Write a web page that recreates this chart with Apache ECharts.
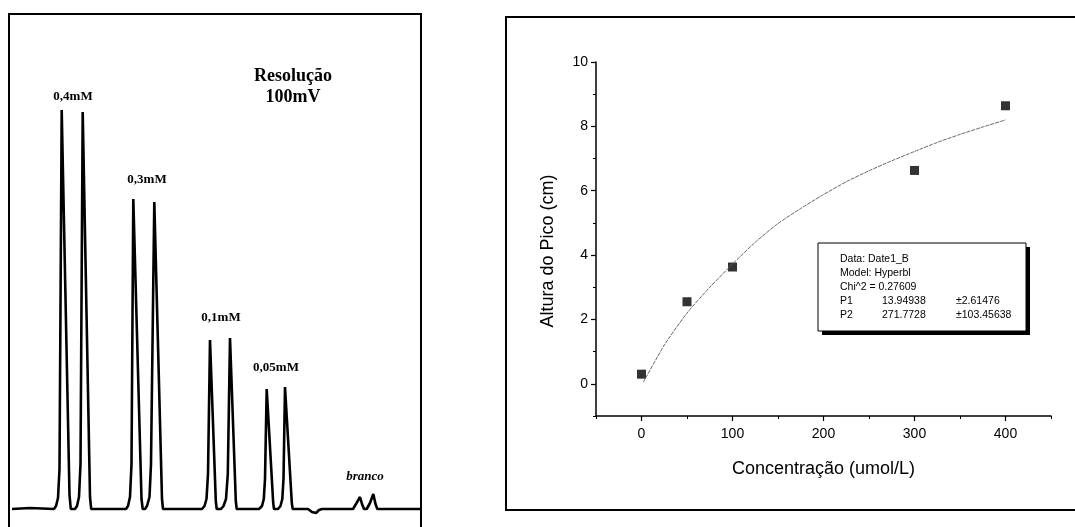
<!DOCTYPE html>
<html>
<head>
<meta charset="utf-8">
<script src="https://cdn.jsdelivr.net/npm/echarts@6/dist/echarts.min.js"></script>
<style>
  html, body { margin: 0; padding: 0; background: #fff; }
  #main { width: 1075px; height: 527px; }
</style>
</head>
<body>
<div id="main"></div>
<script>
// 左图：色谱信号 [t, 信号]，按峰分段
const baseStart = [[2, 0], [20, 1], [44, 0]]
const peaks04 = [[46, 3], [48, 11], [49.5, 40], [51.7, 399], [59.5, 14], [60.8, 0], [65, 0], [67, 3], [69, 12], [70.5, 45], [72.7, 397], [80, 12], [81.2, 0]]
const peaks03 = [[116, 0], [118, 3], [120, 12], [121.5, 45], [123.3, 310], [131.5, 10], [132.7, 0], [135, 0], [137, 3], [139.5, 12], [141, 45], [144.3, 307], [152, 10], [153, 0]]
const peaks01 = [[192, 0], [194.5, 3], [196.5, 10], [198, 35], [200, 169], [205.8, 8], [206.7, 0], [211, 0], [213.5, 3], [216, 10], [217.8, 35], [220, 171], [225.8, 8], [226.7, 0]]
const peaks005 = [[249, 0], [252, 3], [253.8, 10], [255, 30], [256.7, 120], [263.2, 6], [264, 0], [268, 0], [270.5, 3], [272.3, 10], [273.5, 30], [275, 122], [281.8, 6], [282.7, 0]]
const dip = [[298, 0], [302, -3], [306, -4], [309, -1], [312, 0], [343, 0]]
const branco = [[346, 5], [350, 12], [352, 5], [354, 0], [356.7, 0], [360, 6], [363.3, 15], [365.5, 5], [367.3, 0], [410, 0]]

// 右图：实测点
const concX = [0, 50, 100, 300, 400]
const alturaY = [0.3, 2.55, 3.63, 6.63, 8.64]
// 拟合曲线
const fitX = [2, 25, 50, 75, 100, 125, 150, 175, 200, 225, 250, 275, 300, 325, 350, 375, 400]
const fitY = [0.05, 1.2, 2.2, 3.0, 3.72, 4.4, 4.98, 5.45, 5.88, 6.28, 6.62, 6.93, 7.22, 7.5, 7.75, 7.98, 8.2]

const xTicks = [0, 100, 200, 300, 400]
const xMinorTicks = [-50, 50, 150, 250, 350, 450]
const yTicks = [0, 2, 4, 6, 8, 10]
const yMinorTicks = [-1, 1, 3, 5, 7, 9]

const boxLines = [
  ['Data: Date1_B', '', ''],
  ['Model: Hyperbl', '', ''],
  ['Chi^2 = 0.27609', '', ''],
  ['P1', '13.94938', '±2.61476'],
  ['P2', '271.7728', '±103.45638']
]

const trace = [].concat(baseStart, peaks04, peaks03, peaks01, peaks005, dip, branco)
const points = concX.map((x, i) => [x, alturaY[i]])
const fitLine = fitX.map((x, i) => [x, fitY[i]])

const SERIF = 'Liberation Serif'
const SANS = 'Liberation Sans'

// 注释文字
const peakLabel = (text, x, y) => ({
  type: 'text', x, y,
  style: { text, font: `bold 13px "${SERIF}"`, fill: '#000', align: 'center', verticalAlign: 'middle' }
})

const boxTexts = []
boxLines.forEach((row, i) => {
  const y = 259 + i * 14
  ;[840, 882, 956].forEach((x, j) => {
    if (!row[j]) return
    boxTexts.push({
      type: 'text', x, y,
      style: { text: row[j], font: `10.5px "${SANS}"`, fill: '#000', verticalAlign: 'middle' }
    })
  })
})

const axisLine = { show: true, onZero: false, lineStyle: { color: '#000', width: 1.5 } }
const labelStyle = { color: '#000', fontFamily: SANS, fontSize: 14 }

const chart = echarts.init(document.getElementById('main'))
chart.setOption({
  animation: false,
  backgroundColor: '#fff',
  grid: [
    { left: 10, top: 13, width: 410, height: 506 },
    { left: 596, top: 62, width: 455, height: 354 }
  ],
  xAxis: [
    { gridIndex: 0, type: 'value', min: 0, max: 410, show: false },
    {
      gridIndex: 1, type: 'value', position: 'bottom', min: -50, max: 450,
      axisLine, splitLine: { show: false },
      axisTick: { show: true, customValues: xTicks, length: 5, lineStyle: { color: '#000', width: 1.2 } },
      axisLabel: { customValues: xTicks, margin: 11, ...labelStyle },
      name: 'Concentração (umol/L)', nameLocation: 'middle', nameGap: 44,
      nameTextStyle: { color: '#000', fontFamily: SANS, fontSize: 18 }
    },
    {
      gridIndex: 1, type: 'value', position: 'bottom', offset: 0, min: -50, max: 450,
      axisLine: { show: false, onZero: false },
      axisTick: { show: true, customValues: xMinorTicks, length: 3, lineStyle: { color: '#000', width: 1 } },
      axisLabel: { show: false }, splitLine: { show: false }
    }
  ],
  yAxis: [
    { gridIndex: 0, type: 'value', min: -10, max: 496, show: false },
    {
      gridIndex: 1, type: 'value', position: 'left', min: -1, max: 10,
      axisLine, splitLine: { show: false },
      axisTick: { show: true, customValues: yTicks, length: 5, lineStyle: { color: '#000', width: 1.2 } },
      axisLabel: { customValues: yTicks, margin: 8, ...labelStyle }
    },
    {
      gridIndex: 1, type: 'value', position: 'left', offset: 0, min: -1, max: 10,
      axisLine: { show: false, onZero: false },
      axisTick: { show: true, customValues: yMinorTicks, length: 3, lineStyle: { color: '#000', width: 1 } },
      axisLabel: { show: false }, splitLine: { show: false }
    }
  ],
  series: [
    {
      type: 'line', xAxisIndex: 0, yAxisIndex: 0, data: trace,
      showSymbol: false, lineStyle: { color: '#000', width: 2.6 }
    },
    {
      type: 'line', xAxisIndex: 1, yAxisIndex: 1, data: fitLine, smooth: 0.2,
      showSymbol: false, lineStyle: { color: '#666', width: 1, type: [4, 1] }
    },
    {
      type: 'scatter', xAxisIndex: 1, yAxisIndex: 1, data: points,
      symbol: 'rect', symbolSize: 9, itemStyle: { color: '#000' }
    }
  ],
  graphic: [
    // 左框
    { type: 'rect', shape: { x: 9, y: 14, width: 412, height: 530 }, style: { fill: 'none', stroke: '#000', lineWidth: 2 } },
    // 右框
    { type: 'rect', shape: { x: 506, y: 17, width: 600, height: 493 }, style: { fill: 'none', stroke: '#000', lineWidth: 2 } },
    peakLabel('0,4mM', 73, 97),
    peakLabel('0,3mM', 147, 180),
    peakLabel('0,1mM', 221, 318),
    peakLabel('0,05mM', 276, 368),
    {
      type: 'text', x: 365, y: 477,
      style: { text: 'branco', font: `italic bold 13px "${SERIF}"`, fill: '#000', align: 'center', verticalAlign: 'middle' }
    },
    {
      type: 'text', x: 293, y: 76,
      style: { text: 'Resolução', font: `bold 18px "${SERIF}"`, fill: '#000', align: 'center', verticalAlign: 'middle' }
    },
    {
      type: 'text', x: 293, y: 97,
      style: { text: '100mV', font: `bold 18px "${SERIF}"`, fill: '#000', align: 'center', verticalAlign: 'middle' }
    },
    // y 轴标题
    {
      type: 'text', x: 548, y: 251, rotation: Math.PI / 2,
      style: { text: 'Altura do Pico (cm)', font: `18px "${SANS}"`, fill: '#000', align: 'center', verticalAlign: 'middle' }
    },
    // 拟合信息框
    { type: 'rect', shape: { x: 822, y: 247, width: 208, height: 88 }, style: { fill: '#000' } },
    { type: 'rect', shape: { x: 818, y: 243, width: 208, height: 88 }, style: { fill: '#fff', stroke: '#000', lineWidth: 1 } },
    ...boxTexts
  ]
})
</script>
</body>
</html>
